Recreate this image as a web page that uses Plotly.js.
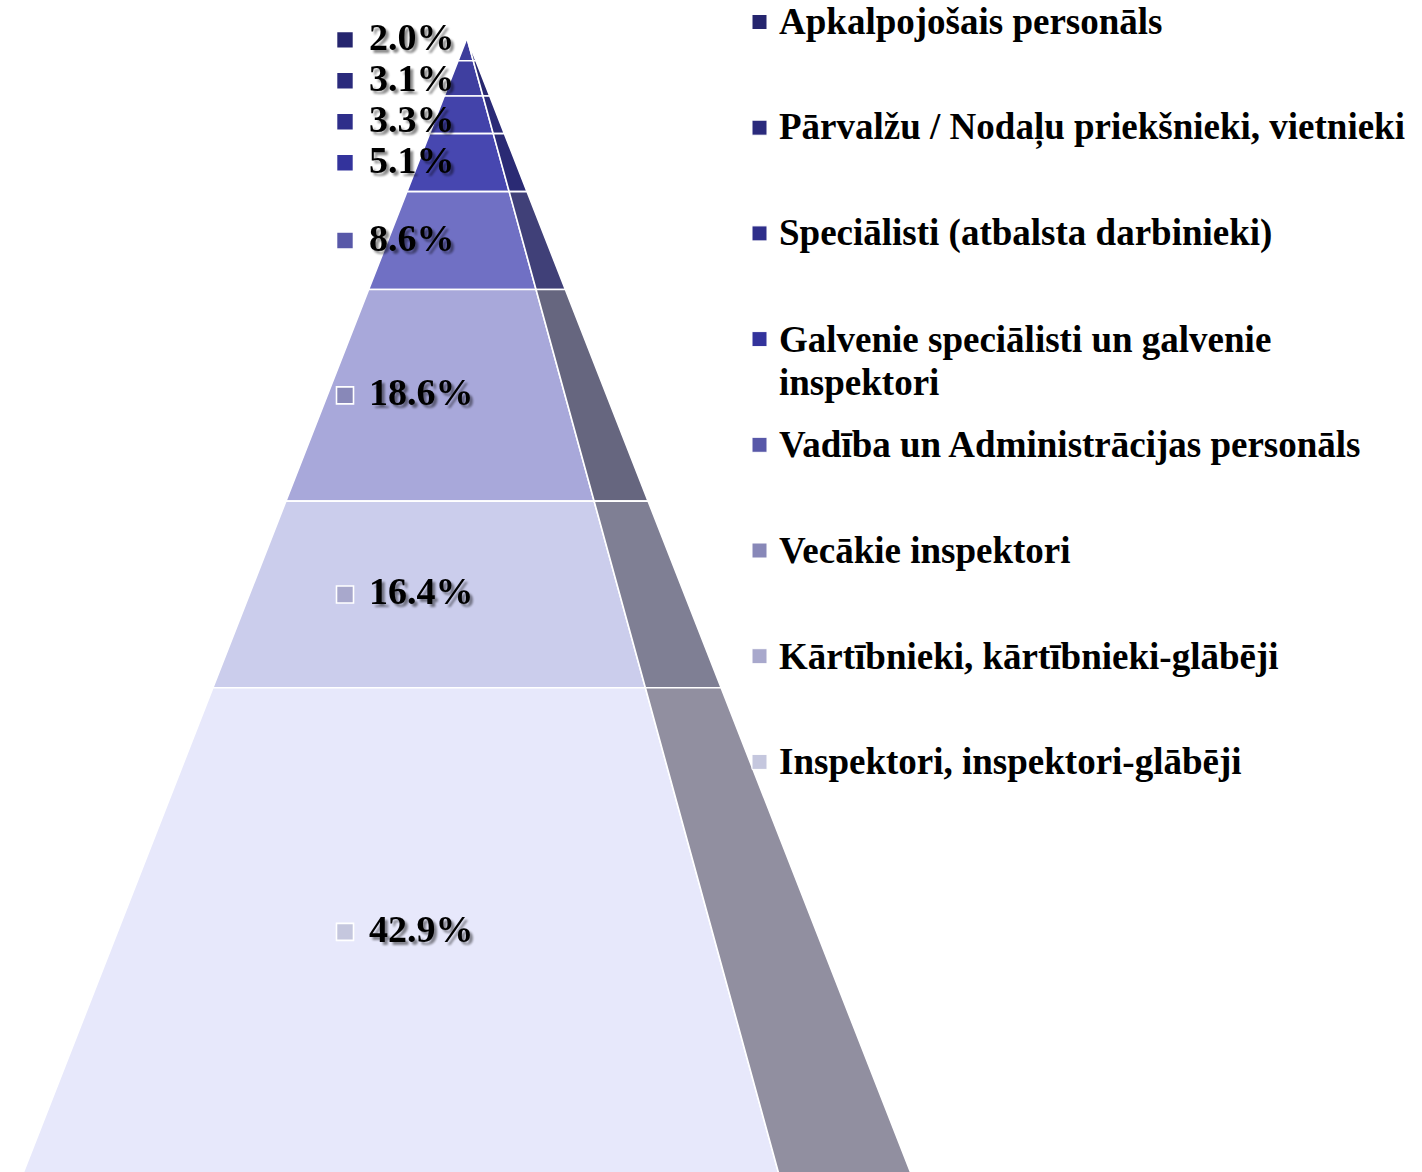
<!DOCTYPE html>
<html>
<head>
<meta charset="utf-8">
<script src="https://cdn.plot.ly/plotly-3.0.1.min.js"></script>
<style>
  html, body { margin: 0; padding: 0; background: #ffffff; }
  #chart { width: 1422px; height: 1172px; }
</style>
</head>
<body>
<svg width="0" height="0" style="position:absolute">
  <defs>
    <filter id="txtShadow" x="-20%" y="-30%" width="140%" height="160%">
      <feGaussianBlur in="SourceAlpha" stdDeviation="1.3" result="blur"/>
      <feOffset in="blur" dx="2.5" dy="2.5" result="off"/>
      <feComponentTransfer in="off" result="soft">
        <feFuncA type="linear" slope="0.45"/>
      </feComponentTransfer>
      <feMerge>
        <feMergeNode in="soft"/>
        <feMergeNode in="SourceGraphic"/>
      </feMerge>
    </filter>
  </defs>
</svg>
<div id="chart"></div>
<script>
// ---------------- DATA ----------------
const categories = [
  'Apkalpojošais personāls',
  'Pārvalžu / Nodaļu priekšnieki, vietnieki',
  'Speciālisti (atbalsta darbinieki)',
  'Galvenie speciālisti un galvenie inspektori',
  'Vadība un Administrācijas personāls',
  'Vecākie inspektori',
  'Kārtībnieki, kārtībnieki-glābēji',
  'Inspektori, inspektori-glābēji'
];
const shares = [2.0, 3.1, 3.3, 5.1, 8.6, 18.6, 16.4, 42.9];

// ---------------- STYLE ----------------
const frontColors = ['#3d3d9b', '#3f3fa0', '#4343aa', '#4747b0', '#7070c4', '#a8a8da', '#cbcdec', '#e7e8fb'];
const sideColors  = ['#26266e', '#28286f', '#2a2a76', '#2a2a74', '#404078', '#66667f', '#7f7f94', '#918fa0'];
const keyColors   = ['#25256e', '#2a2a7c', '#2e2e8a', '#33339c', '#5858a8', '#8888b8', '#a8a8cc', '#c5c7de'];

const W = 1422, H = 1172;
const APEX_PX = 467, APEX_PY = 38;      // apex position in pixels
const PX_PER_PCT = 11.38;                // vertical pixels per percent
const PX_PER_UNIT = 445;                 // horizontal pixels per half-base unit
const RIDGE = 0.702;                     // front/side ridge as fraction of half-base
const FONT = '"Liberation Serif", "Times New Roman", serif';

// ---------------- GEOMETRY FROM DATA ----------------
const tops = [], bottoms = [];
let acc = 0;
shares.forEach(v => { tops.push(acc); acc += v; bottoms.push(acc); });

const traces = [];
shares.forEach((v, i) => {
  const t = tops[i], b = bottoms[i];
  const tl = -t / 100, bl = -b / 100;
  const tr = RIDGE * t / 100, br = RIDGE * b / 100;
  const ts = t / 100, bs = b / 100;
  traces.push({
    type: 'scatter', mode: 'lines', fill: 'toself',
    x: [tl, tr, br, bl, tl], y: [t, t, b, b, t],
    fillcolor: frontColors[i], line: {color: '#ffffff', width: 1.6},
    hoverinfo: 'skip', showlegend: false
  });
  traces.push({
    type: 'scatter', mode: 'lines', fill: 'toself',
    x: [tr, ts, bs, br, tr], y: [t, t, b, b, t],
    fillcolor: sideColors[i], line: {color: '#ffffff', width: 1.6},
    hoverinfo: 'skip', showlegend: false
  });
});

// label positions: segment midpoints, spread apart where too close
const GAP = 3.6;
const labelY = shares.map((v, i) => (tops[i] + bottoms[i]) / 2);
for (let iter = 0; iter < 200; iter++) {
  for (let i = 0; i < labelY.length - 1; i++) {
    const d = labelY[i + 1] - labelY[i];
    if (d < GAP) {
      const s = (GAP - d) / 2;
      labelY[i] -= s; labelY[i + 1] += s;
    }
  }
}

const pxToX = px => (px - APEX_PX) / PX_PER_UNIT;
const keyX = pxToX(345);
const textX = pxToX(367);

traces.push({
  type: 'scatter', mode: 'markers',
  x: labelY.map(() => keyX), y: labelY,
  marker: {symbol: 'square', size: 17, color: keyColors, line: {color: '#ffffff', width: 1.6}},
  hoverinfo: 'skip', showlegend: false
});

const annotations = [];
shares.forEach((v, i) => {
  annotations.push({
    x: textX, y: labelY[i], xref: 'x', yref: 'y', xanchor: 'left', yanchor: 'middle',
    text: '<b>' + v.toFixed(1) + '%</b>', showarrow: false, yshift: 3,
    font: {family: FONT, size: 38, color: '#000000'}
  });
});
const N_LABELS = annotations.length;

// ---------------- CUSTOM LEGEND ----------------
const LEG_TOP = 22, LEG_STEP = 105.7, LEG_LINE = 43, LEG_KEY_X = 752, LEG_TEXT_X = 777, KEY = 15;
const WRAP = 41;
function wrap(s) {
  const words = s.split(' '); const lines = []; let cur = '';
  words.forEach(w => {
    const cand = cur ? cur + ' ' + w : w;
    if (cand.length > WRAP && cur) { lines.push(cur); cur = w; } else cur = cand;
  });
  if (cur) lines.push(cur);
  return lines;
}
const shapes = [];
categories.forEach((name, i) => {
  const cy = LEG_TOP + i * LEG_STEP;
  shapes.push({
    type: 'rect', xref: 'paper', yref: 'paper', layer: 'above',
    x0: LEG_KEY_X / W, x1: (LEG_KEY_X + KEY) / W,
    y0: 1 - (cy + KEY / 2) / H, y1: 1 - (cy - KEY / 2) / H,
    fillcolor: keyColors[i], line: {color: '#ffffff', width: 1}
  });
  wrap(name).forEach((ln, j) => {
    annotations.push({
      x: LEG_TEXT_X / W, y: 1 - (cy + j * LEG_LINE) / H, xref: 'paper', yref: 'paper',
      xanchor: 'left', yanchor: 'middle', showarrow: false,
      text: '<b>' + ln + '</b>',
      font: {family: FONT, size: 37, color: '#000000'}
    });
  });
});

const layout = {
  width: W, height: H,
  margin: {l: 0, r: 0, t: 0, b: 0},
  paper_bgcolor: '#ffffff', plot_bgcolor: '#ffffff',
  showlegend: false,
  xaxis: {range: [pxToX(0), pxToX(W)], visible: false, fixedrange: true},
  yaxis: {range: [(H - APEX_PY) / PX_PER_PCT, -APEX_PY / PX_PER_PCT], visible: false, fixedrange: true},
  annotations: annotations,
  shapes: shapes
};

Plotly.newPlot('chart', traces, layout, {displayModeBar: false, staticPlot: true}).then(gd => {
  gd.querySelectorAll('.annotation').forEach(g => {
    const idx = +g.getAttribute('data-index');
    if (idx < N_LABELS) {
      const t = g.querySelector('text');
      if (t) t.setAttribute('filter', 'url(#txtShadow)');
    }
  });
});
</script>
</body>
</html>
